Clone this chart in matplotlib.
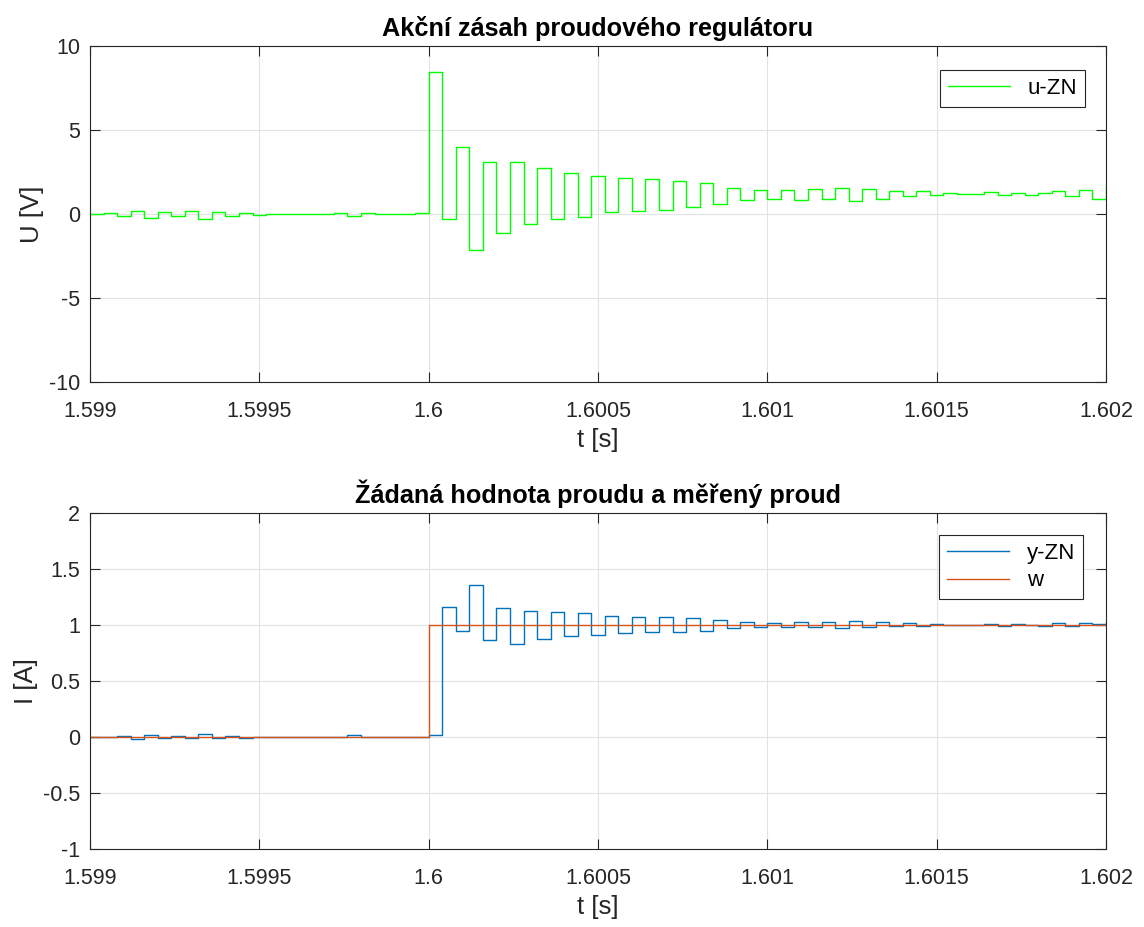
import numpy as np
import matplotlib
matplotlib.use("Agg")
import matplotlib.pyplot as plt

# ==========================================================
# Data (sample time 40 us)
# ==========================================================

t_start = 1.599
Ts = 0.00004

# controller output u-ZN [V], one value per sample
u_zn = [
    0.0, 0.06, -0.12, 0.2, -0.24, 0.14, -0.12, 0.18, -0.3, 0.14,
    -0.1, 0.08, -0.04, 0.02, 0.0, 0.02, -0.02, 0.0, 0.04, -0.12,
    0.06, 0.0, 0.0, 0.0, 0.06,
    8.45, -0.32, 3.99, -2.12, 3.11, -1.11, 3.08, -0.62, 2.74, -0.32,
    2.46, -0.18, 2.28, 0.1, 2.12, 0.18, 2.08, 0.24, 1.94, 0.4,
    1.85, 0.6, 1.57, 0.81, 1.41, 0.91, 1.45, 0.81, 1.47, 0.87,
    1.57, 0.77, 1.49, 0.89, 1.39, 1.05, 1.37, 1.11, 1.25, 1.17,
    1.17, 1.31, 1.13, 1.27, 1.13, 1.23, 1.39, 1.07, 1.41, 0.91,
    1.6,
]

# measured current y-ZN [A]
y_zn = [
    0.003, 0.003, 0.012, -0.015, 0.02, -0.01, 0.012, -0.01, 0.024, -0.012,
    0.012, -0.006, 0.003, 0.0, 0.0, 0.0, 0.0, 0.0, 0.0, 0.015,
    0.0, 0.0, 0.0, 0.0, 0.0,
    0.015, 1.164, 0.95, 1.357, 0.866, 1.155, 0.83, 1.128, 0.875, 1.116,
    0.902, 1.104, 0.914, 1.083, 0.932, 1.074, 0.935, 1.071, 0.94, 1.06,
    0.95, 1.045, 0.973, 1.027, 0.982, 1.018, 0.982, 1.03, 0.982, 1.024,
    0.973, 1.036, 0.979, 1.024, 0.988, 1.015, 0.991, 1.012, 1.003, 1.003,
    1.0, 1.009, 0.994, 1.009, 0.997, 0.994, 1.015, 0.994, 1.021, 1.009,
    1.027,
]

# current reference w [A]
w_time = [1.599, 1.6, 1.602]
w_val = [0.0, 1.0, 1.0]

t = t_start + Ts * np.arange(len(u_zn))

# ==========================================================
# Style (MATLAB-like)
# ==========================================================

plt.rcParams["font.family"] = ["Liberation Sans", "DejaVu Sans"]
ink = "#262626"
plt.rcParams["axes.edgecolor"] = ink
plt.rcParams["xtick.color"] = ink
plt.rcParams["ytick.color"] = ink

fig = plt.figure(figsize=(11.44, 9.27), dpi=100)

ax1 = fig.add_axes([0.0787, 0.5879, 0.8881, 0.3625])
ax2 = fig.add_axes([0.0787, 0.0841, 0.8881, 0.3625])

xticks = [1.599, 1.5995, 1.6, 1.6005, 1.601, 1.6015, 1.602]
xlabels = ["1.599", "1.5995", "1.6", "1.6005", "1.601", "1.6015", "1.602"]


def style_axes(ax, yticks, ylabels, ylabel, title):
    ax.set_xlim(1.599, 1.602)
    ax.set_ylim(yticks[0], yticks[-1])
    ax.set_xticks(xticks)
    ax.set_xticklabels(xlabels)
    ax.set_yticks(yticks)
    ax.set_yticklabels(ylabels)
    ax.grid(True, color="#e3e3e3", linewidth=0.8)
    ax.set_axisbelow(True)
    ax.tick_params(direction="in", length=7, width=0.8,
                   top=True, right=True, labelsize=15.5)
    ax.tick_params(axis="x", pad=14)
    ax.tick_params(axis="y", pad=7)
    for s in ax.spines.values():
        s.set_linewidth(0.8)
    ax.set_xlabel("t [s]", fontsize=18.5, color=ink, labelpad=4)
    ax.set_ylabel(ylabel, fontsize=18.5, color=ink, labelpad=4)
    ax.set_title(title, fontsize=18.2, fontweight="bold", pad=7)


# ==========================================================
# Top: controller action
# ==========================================================

ax1.step(t, u_zn, where="post", color="#00ff00", linewidth=1.0, label="u-ZN")
style_axes(ax1, [-10, -5, 0, 5, 10], ["-10", "-5", "0", "5", "10"],
           "U [V]", "Akční zásah proudového regulátoru")
leg1 = ax1.legend(loc="upper right", bbox_to_anchor=(0.9793, 0.9286),
                  borderaxespad=0, fontsize=16, fancybox=False,
                  handlelength=2.8, edgecolor=ink, framealpha=1,
                  borderpad=0.35)
leg1.get_frame().set_linewidth(0.8)

# ==========================================================
# Bottom: reference and measured current
# ==========================================================

ax2.step(t, y_zn, where="post", color="#0072bd", linewidth=1.0, label="y-ZN")
ax2.step(w_time, w_val, where="post", color="#d95319", linewidth=1.0, label="w")
style_axes(ax2, [-1, -0.5, 0, 0.5, 1, 1.5, 2],
           ["-1", "-0.5", "0", "0.5", "1", "1.5", "2"],
           "I [A]", "Žádaná hodnota proudu a měřený proud")
leg2 = ax2.legend(loc="upper right", bbox_to_anchor=(0.9774, 0.9345),
                  borderaxespad=0, fontsize=16, fancybox=False,
                  handlelength=2.8, edgecolor=ink, framealpha=1,
                  borderpad=0.35, labelspacing=0.3)
leg2.get_frame().set_linewidth(0.8)

fig.savefig("out.png", dpi=100, facecolor="white")
